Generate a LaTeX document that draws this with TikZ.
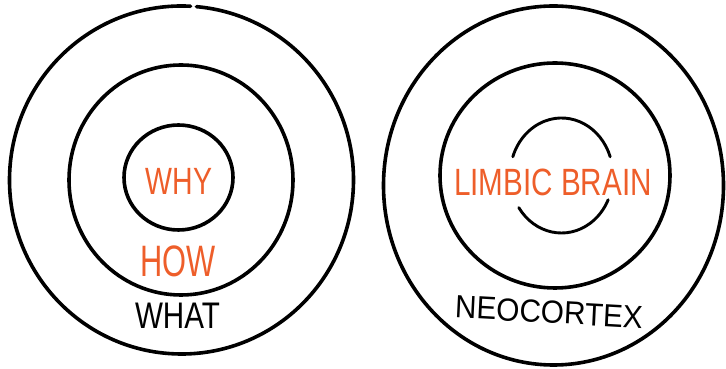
\documentclass[tikz,border=0pt]{standalone}
\usepackage{fontspec}
\setmainfont{Liberation Sans}
\usepackage{xcolor}
\usetikzlibrary{positioning,calc}
\definecolor{hotorange}{RGB}{238,94,42}

\begin{document}
\begin{tikzpicture}[
    x=1pt, y=1pt,
    ring/.style={
        draw=black,
        line width=3.6pt,
        line cap=round
    },
    thinring/.style={
        draw=black,
        line width=2.9pt,
        line cap=round
    },
    word/.style={
        inner sep=0pt,
        font=\fontsize{38}{38}\selectfont,
        text=black
    },
    hot/.style={
        word,
        text=hotorange
    }
]
\useasboundingbox (0,0) rectangle (726,369);

% left circles
\coordinate (lc) at (181.5,189);
\draw[ring] ($(lc)+(87:172 and 174)$)
    arc[start angle=87, end angle=445, x radius=172, y radius=174];
\draw[ring] (181,189) ellipse[x radius=112, y radius=115];
\draw[ring] (178.5,191.5) ellipse[x radius=54.5, y radius=52.5];

\node[hot, xscale=0.75] (why) at (179,188) {WHY};
\node[hot, xscale=0.70, font=\fontsize{44}{44}\selectfont] (how) at (178,108) {HOW};
\node[word, xscale=0.80, font=\fontsize{37}{37}\selectfont] (what) at (177.5,53) {WHAT};

% right circles
\draw[ring] (553.5,183.5) ellipse[x radius=170, y radius=179.5];
\draw[ring] (555,193.5) ellipse[x radius=115, y radius=112.5];
\coordinate (rc) at (561.5,193.5);
\draw[thinring] ($(rc)+(19:51.5 and 57.5)$)
    arc[start angle=19, end angle=161, x radius=51.5, y radius=57.5];
\draw[thinring] ($(rc)+(214:51.5 and 57.5)$)
    arc[start angle=214, end angle=335, x radius=51.5, y radius=57.5];

\node[hot, xscale=0.78] (limbic) at (553,187) {LIMBIC BRAIN};
\node[word, xscale=0.93, rotate=-3, font=\fontsize{32}{32}\selectfont] (neo) at (549,57) {NEOCORTEX};

\end{tikzpicture}
\end{document}
